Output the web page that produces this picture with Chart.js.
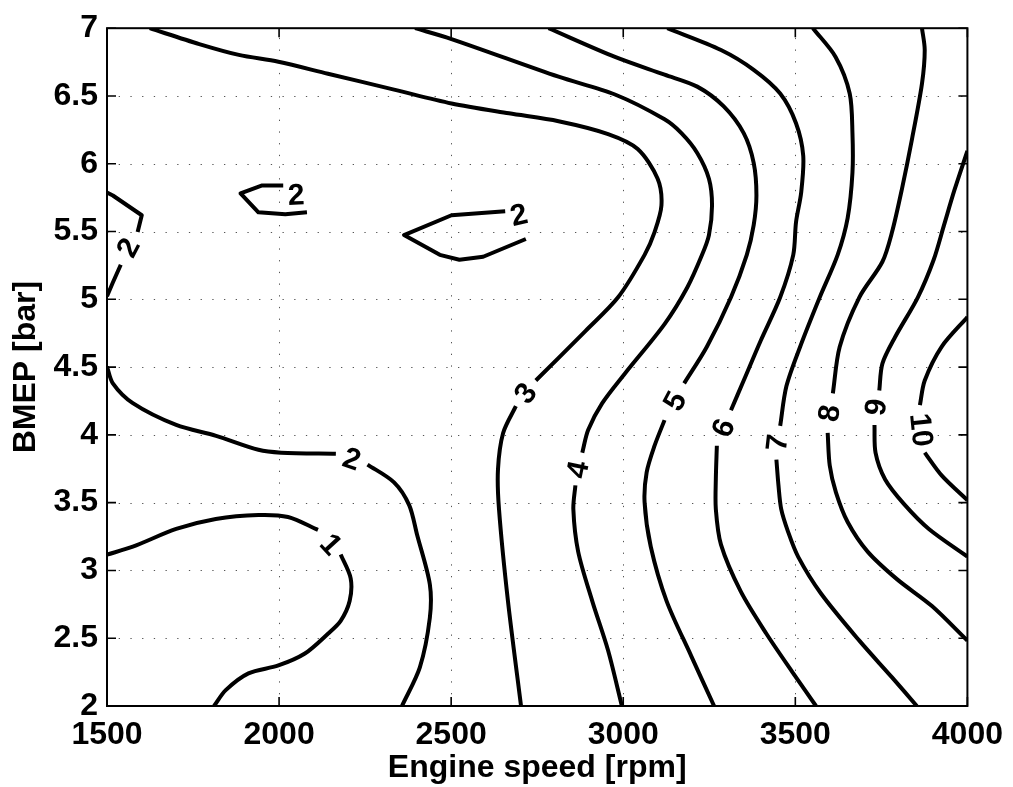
<!DOCTYPE html>
<html>
<head>
<meta charset="utf-8">
<script src="https://cdn.jsdelivr.net/npm/chart.js@4.4.1/dist/chart.umd.min.js"></script>
<style>
  html, body { margin: 0; padding: 0; background: #fff; }
  canvas { display: block; }
</style>
</head>
<body>
<canvas id="map" width="1013" height="787"></canvas>
<script>
// Axis ticks
const xTicks = [1500, 2000, 2500, 3000, 3500, 4000];
const yTicks = [2, 2.5, 3, 3.5, 4, 4.5, 5, 5.5, 6, 6.5, 7];

// Contour pieces per level, each piece is a list of [engine speed rpm, BMEP bar]
const level1 = [
  [[1500, 3.117], [1575, 3.175], [1701, 3.306], [1816, 3.380], [1940, 3.409], [2026, 3.394], [2113, 3.299]],
  [[2179, 3.117], [2208, 2.942], [2205, 2.774], [2179, 2.628], [2142, 2.533], [2075, 2.387], [1998, 2.299], [1911, 2.241], [1845, 2.117], [1811, 2.0]]
];
const level2 = [
  [[1500, 5.788], [1517, 5.766], [1601, 5.620], [1589, 5.496]],
  [[1540, 5.255], [1517, 5.124], [1500, 5.022]],
  [[2012, 5.839], [1949, 5.839], [1888, 5.781], [1940, 5.642], [2018, 5.628], [2081, 5.642]],
  [[2657, 5.650], [2501, 5.620], [2363, 5.474], [2467, 5.328], [2524, 5.292], [2593, 5.314], [2717, 5.445]],
  [[1500, 4.504], [1517, 4.380], [1575, 4.234], [1701, 4.073], [1817, 3.993], [1940, 3.890], [2006, 3.869], [2165, 3.861]],
  [[2257, 3.781], [2334, 3.650], [2378, 3.482], [2401, 3.263], [2438, 2.898], [2438, 2.650], [2409, 2.285], [2357, 2.0]]
];
const level3 = [
  [[1624, 7.0], [1768, 6.883], [1883, 6.803], [1998, 6.752], [2142, 6.664], [2334, 6.547], [2501, 6.445], [2668, 6.372],
   [2812, 6.314], [2956, 6.219], [3042, 6.109], [3100, 5.890], [3111, 5.693], [3091, 5.496], [3062, 5.328],
   [2985, 5.015], [2890, 4.766], [2746, 4.401]],
  [[2688, 4.212], [2651, 4.014], [2636, 3.744], [2639, 3.452], [2665, 2.774], [2703, 2.0]]
];
const level4 = [
  [[2395, 7.0], [2501, 6.920], [2812, 6.642], [2976, 6.511], [3120, 6.328], [3169, 6.226], [3215, 6.080], [3249, 5.890],
   [3258, 5.693], [3249, 5.474], [3229, 5.328], [3186, 5.087], [3120, 4.817], [3005, 4.453], [2939, 4.234],
   [2898, 4.036], [2881, 3.869]],
  [[2861, 3.628], [2855, 3.452], [2869, 3.139], [2910, 2.774], [2956, 2.409], [2996, 2.0]]
];
const level5 = [
  [[2783, 7.0], [2976, 6.788], [3120, 6.657], [3215, 6.569], [3292, 6.423], [3350, 6.226], [3379, 6.007], [3387, 5.766],
   [3379, 5.547], [3359, 5.328], [3313, 5.015], [3243, 4.650], [3177, 4.380]],
  [[3120, 4.109], [3091, 3.920], [3068, 3.723], [3062, 3.504], [3080, 3.175], [3126, 2.774], [3197, 2.372], [3264, 2.0]]
];
const level6 = [
  [[3128, 7.0], [3284, 6.839], [3379, 6.693], [3456, 6.518], [3502, 6.299], [3523, 6.058], [3517, 5.788], [3502, 5.569],
   [3494, 5.328], [3456, 5.015], [3399, 4.693], [3350, 4.401], [3313, 4.182]],
  [[3272, 3.920], [3269, 3.671], [3269, 3.452], [3284, 3.190], [3341, 2.847], [3416, 2.533], [3494, 2.241], [3560, 2.0]]
];
const level7 = [
  [[3551, 7.0], [3617, 6.788], [3658, 6.518], [3666, 6.226], [3666, 5.934], [3652, 5.599], [3623, 5.328], [3571, 5.015],
   [3514, 4.650], [3474, 4.358], [3456, 4.066]],
  [[3445, 3.818], [3451, 3.628], [3459, 3.452], [3479, 3.285], [3508, 3.102], [3574, 2.832], [3686, 2.482], [3781, 2.211], [3853, 2.0]]
];
const level8 = [
  [[3868, 7.0], [3876, 6.839], [3868, 6.591], [3839, 6.182], [3810, 5.817], [3781, 5.496], [3753, 5.277], [3686, 5.015],
   [3629, 4.650], [3609, 4.306]],
  [[3594, 4.014], [3600, 3.774], [3618, 3.576], [3652, 3.357], [3710, 3.139], [3796, 2.934], [3897, 2.737], [4000, 2.482]]
];
const level9 = [
  [[4000, 6.095], [3962, 5.803], [3932, 5.547], [3902, 5.292], [3856, 5.015], [3790, 4.722], [3753, 4.526], [3744, 4.328]],
  [[3730, 4.073], [3733, 3.869], [3761, 3.671], [3816, 3.489], [3888, 3.306], [4000, 3.102]]
];
const level10 = [
  [[4000, 4.869], [3925, 4.650], [3876, 4.401], [3862, 4.219]],
  [[3876, 3.869], [3925, 3.701], [4000, 3.518]]
];

// Where each level's value is written inline: [level, rpm, bar]
const labelSpots = [
  [1, 2150, 3.190], [2, 1563, 5.380], [2, 2050, 5.766], [2, 2697, 5.620], [2, 2211, 3.818],
  [3, 2717, 4.306], [4, 2869, 3.744], [5, 3151, 4.248], [6, 3292, 4.051], [7, 3448, 3.942],
  [8, 3600, 4.160], [9, 3735, 4.204], [10, 3865, 4.036]
];

const contourLevels = [[1, level1], [2, level2], [3, level3], [4, level4], [5, level5],
                       [6, level6], [7, level7], [8, level8], [9, level9], [10, level10]];
// small closed islands are drawn as straight-segment polygons
const polygonPieces = new Set([level2[0], level2[1], level2[2], level2[3]]);

const FONT = "'Liberation Sans', Arial, Helvetica, sans-serif";

const datasets = [];
contourLevels.forEach(([lv, pieces]) => {
  pieces.forEach(piece => {
    datasets.push({
      label: 'BMEP contour ' + lv,
      data: piece.map(([x, y]) => ({ x, y })),
      showLine: true,
      borderColor: '#000',
      borderWidth: 4,
      borderJoinStyle: 'round',
      borderCapStyle: 'butt',
      pointRadius: 0,
      fill: false,
      tension: polygonPieces.has(piece) ? 0 : 0.3
    });
  });
});

// dotted grid behind the contours
const gridPlugin = {
  id: 'dottedGrid',
  beforeDatasetsDraw(chart) {
    const { ctx, chartArea: a, scales: { x, y } } = chart;
    ctx.save();
    ctx.strokeStyle = '#555';
    ctx.lineWidth = 1;
    ctx.setLineDash([1.3, 10.4]);
    xTicks.slice(1, -1).forEach(v => {
      const px = Math.round(x.getPixelForValue(v)) + 0.5;
      ctx.beginPath(); ctx.moveTo(px, a.bottom); ctx.lineTo(px, a.top); ctx.stroke();
    });
    yTicks.slice(1, -1).forEach(v => {
      const py = Math.round(y.getPixelForValue(v)) + 0.5;
      ctx.beginPath(); ctx.moveTo(a.left, py); ctx.lineTo(a.right, py); ctx.stroke();
    });
    ctx.restore();
  }
};

// box with inward tick marks on all four sides
const framePlugin = {
  id: 'boxFrame',
  afterDatasetsDraw(chart) {
    const { ctx, chartArea: a, scales: { x, y } } = chart;
    const len = 9;
    ctx.save();
    ctx.strokeStyle = '#000';
    ctx.lineWidth = 1.6;
    xTicks.forEach(v => {
      const px = x.getPixelForValue(v);
      ctx.beginPath();
      ctx.moveTo(px, a.bottom); ctx.lineTo(px, a.bottom - len);
      ctx.moveTo(px, a.top); ctx.lineTo(px, a.top + len);
      ctx.stroke();
    });
    yTicks.forEach(v => {
      const py = y.getPixelForValue(v);
      ctx.beginPath();
      ctx.moveTo(a.left, py); ctx.lineTo(a.left + len, py);
      ctx.moveTo(a.right, py); ctx.lineTo(a.right - len, py);
      ctx.stroke();
    });
    ctx.lineWidth = 2;
    ctx.strokeRect(a.left, a.top, a.right - a.left, a.bottom - a.top);
    ctx.restore();
  }
};

// inline level labels, turned to follow the contour across their gap
const labelPlugin = {
  id: 'inlineLabels',
  afterDatasetsDraw(chart) {
    const { ctx, scales: { x, y } } = chart;
    const toPx = p => [x.getPixelForValue(p[0]), y.getPixelForValue(p[1])];
    ctx.save();
    ctx.fillStyle = '#000';
    ctx.font = 'bold 30px ' + FONT;
    ctx.textAlign = 'center';
    ctx.textBaseline = 'middle';
    labelSpots.forEach(([lv, rpm, bar]) => {
      const [lx, ly] = toPx([rpm, bar]);
      const pieces = contourLevels.find(c => c[0] === lv)[1];
      const ends = [];
      pieces.forEach(piece => {
        if (piece.length < 2) return;
        const n = piece.length;
        [[piece[0], piece[1]], [piece[n - 1], piece[n - 2]]].forEach(([e, nb]) => {
          const [ex, ey] = toPx(e);
          const [nx, ny] = toPx(nb);
          const tl = Math.hypot(ex - nx, ey - ny) || 1;
          ends.push({ ex, ey, tx: (ex - nx) / tl, ty: (ey - ny) / tl, d: Math.hypot(ex - lx, ey - ly) });
        });
      });
      ends.sort((p, q) => p.d - q.d);
      const [A, B] = ends;
      let ang;
      if (A.tx * B.tx + A.ty * B.ty < 0) {
        ang = Math.atan2(B.ey - A.ey, B.ex - A.ex);
      } else {
        ang = Math.atan2(A.ty + B.ty, A.tx + B.tx);
      }
      if (ang > Math.PI / 2) ang -= Math.PI;
      if (ang <= -Math.PI / 2) ang += Math.PI;
      ctx.save();
      ctx.translate(lx, ly);
      ctx.rotate(ang);
      ctx.fillText(String(lv), 0, 1);
      ctx.restore();
    });
    ctx.restore();
  }
};

const tickFont = { family: FONT, size: 32, weight: 'bold' };

new Chart(document.getElementById('map'), {
  type: 'scatter',
  data: { datasets },
  options: {
    responsive: false,
    devicePixelRatio: 1,
    animation: false,
    events: [],
    layout: { padding: { left: 0, top: 21, right: 37, bottom: 0 } },
    plugins: { legend: { display: false }, tooltip: { enabled: false } },
    scales: {
      x: {
        type: 'linear',
        min: xTicks[0],
        max: xTicks[xTicks.length - 1],
        afterBuildTicks: s => { s.ticks = xTicks.map(v => ({ value: v })); },
        afterFit: s => { s.height = 81; },
        grid: { display: false, drawTicks: false },
        border: { display: false },
        ticks: { color: '#000', font: tickFont, padding: 10, maxRotation: 0, autoSkip: false,
                 callback: v => String(v) },
        title: { display: true, text: 'Engine speed [rpm]', color: '#000', font: tickFont,
                 padding: { top: 0, bottom: 0 } }
      },
      y: {
        type: 'linear',
        min: yTicks[0],
        max: yTicks[yTicks.length - 1],
        afterBuildTicks: s => { s.ticks = yTicks.map(v => ({ value: v })); },
        afterFit: s => { s.width = 107; },
        grid: { display: false, drawTicks: false },
        border: { display: false },
        ticks: { color: '#000', font: tickFont, padding: 9, autoSkip: false,
                 callback: v => String(v) },
        title: { display: true, text: 'BMEP [bar]', color: '#000', font: tickFont,
                 padding: { top: 7, bottom: 0 } }
      }
    }
  },
  plugins: [gridPlugin, framePlugin, labelPlugin]
});
</script>
</body>
</html>
